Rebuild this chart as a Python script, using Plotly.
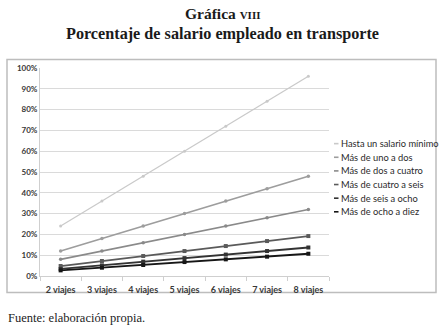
import plotly.graph_objects as go

# Categories (number of trips) and share of salary spent on transport per income band
viajes = ["2 viajes", "3 viajes", "4 viajes", "5 viajes", "6 viajes", "7 viajes", "8 viajes"]

hasta_un_salario = [0.24, 0.36, 0.48, 0.60, 0.72, 0.84, 0.96]
uno_a_dos = [0.12, 0.18, 0.24, 0.30, 0.36, 0.42, 0.48]
dos_a_cuatro = [0.08, 0.12, 0.16, 0.20, 0.24, 0.28, 0.32]
cuatro_a_seis = [0.048, 0.072, 0.096, 0.12, 0.144, 0.168, 0.192]
seis_a_ocho = [0.034, 0.051, 0.069, 0.086, 0.103, 0.12, 0.137]
ocho_a_diez = [0.027, 0.04, 0.053, 0.067, 0.08, 0.093, 0.107]

series_names = [
    "Hasta un salario mínimo",
    "Más de uno a dos",
    "Más de dos a cuatro",
    "Más de cuatro a seis",
    "Más de seis a ocho",
    "Más de ocho a diez",
]
series_values = [hasta_un_salario, uno_a_dos, dos_a_cuatro, cuatro_a_seis, seis_a_ocho, ocho_a_diez]
y_ticks = [i / 10 for i in range(11)]

colors = ["#c9c9c9", "#9d9d9d", "#8a8a8a", "#5a5a5a", "#333333", "#161616"]
widths = [1.2, 1.6, 1.6, 1.8, 1.8, 1.8]
symbols = ["circle", "circle", "circle", "square", "square", "square"]
msizes = [3, 3.5, 3.5, 4, 4, 4]

W, H = 444, 328
L, R, T, B = 40, 115, 67.5, 51.5
PW, PH = W - L - R, H - T - B


def px(x):
    return (x - L) / PW


def py(y):
    return (H - B - y) / PH


fig = go.Figure()
for name, vals, c, w, s, m in zip(series_names, series_values, colors, widths, symbols, msizes):
    fig.add_trace(go.Scatter(
        x=viajes, y=vals, name=name, mode="lines+markers",
        line=dict(color=c, width=w),
        marker=dict(color=c, size=m, symbol=s),
        showlegend=False,
    ))

shapes = [
    # outer chart frame
    dict(type="rect", xref="paper", yref="paper",
         x0=px(7), x1=px(436), y0=py(293), y1=py(59),
         line=dict(color="#bdbdbd", width=1.5), layer="below"),
]
annotations = [
    dict(text="<b>Gráfica <span style='font-size:11px'>VIII</span></b>", xref="paper", yref="paper",
         x=px(222), y=py(13), xanchor="center", yanchor="middle", showarrow=False,
         font=dict(family="Liberation Serif", size=15.5, color="#1a1a1a")),
    dict(text="<b>Porcentaje de salario empleado en transporte</b>", xref="paper", yref="paper",
         x=px(222), y=py(33), xanchor="center", yanchor="middle", showarrow=False,
         font=dict(family="Liberation Serif", size=16.2, color="#1a1a1a")),
    dict(text="Fuente: elaboración propia.", xref="paper", yref="paper",
         x=px(6), y=py(319), xanchor="left", yanchor="middle", showarrow=False,
         font=dict(family="Liberation Serif", size=12.5, color="#222222")),
]

# legend: short key line plus label for each series
for i, (name, c) in enumerate(zip(series_names, colors)):
    yy = 143.5 + i * 13.7
    shapes.append(dict(type="line", xref="paper", yref="paper",
                       x0=px(334), x1=px(338.5), y0=py(yy), y1=py(yy),
                       line=dict(color=c, width=1.6)))
    annotations.append(dict(text=name, xref="paper", yref="paper",
                            x=px(338.5), y=py(yy), xanchor="left", yanchor="middle",
                            showarrow=False,
                            font=dict(family="Lato", size=9.3, color="#2a2a2a")))

fig.update_layout(
    width=W, height=H,
    margin=dict(l=L, r=R, t=T, b=B),
    paper_bgcolor="white", plot_bgcolor="white",
    shapes=shapes, annotations=annotations,
    xaxis=dict(
        type="category", showgrid=False, showline=True, linecolor="#cfcfcf", linewidth=1,
        ticks="outside", tickson="boundaries", ticklen=4, tickcolor="#cfcfcf",
        ticklabelstandoff=5,
        tickfont=dict(family="Lato", size=9, color="#383838", weight="bold"),
        range=[-0.5, 6.5], zeroline=False,
    ),
    yaxis=dict(
        range=[0, 1], tickvals=y_ticks, tickformat=".0%",
        showgrid=True, gridcolor="#dadada", gridwidth=1,
        showline=True, linecolor="#cfcfcf", linewidth=1,
        ticks="", zeroline=False,
        tickfont=dict(family="Lato", size=8, color="#383838", weight="bold"),
    ),
)

fig.write_html("out.html")
